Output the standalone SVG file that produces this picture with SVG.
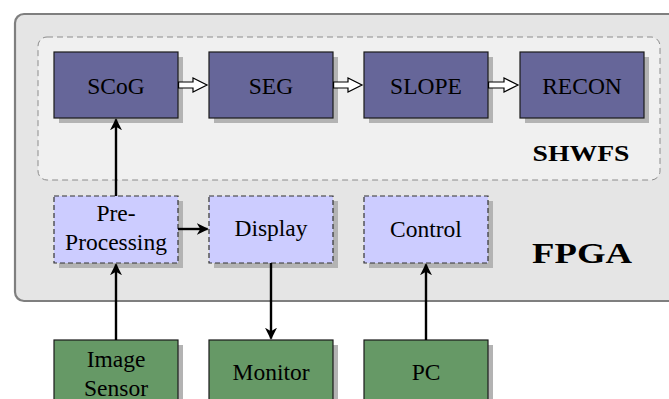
<svg xmlns="http://www.w3.org/2000/svg" width="669" height="399" viewBox="0 0 669 399">
  <style>
    text { font-family: "Liberation Serif", "DejaVu Serif", serif; fill: #000; text-anchor: middle; }
    .lbl { font-size: 23.5px; }
    .shadow { fill: #b3b3b3; }
    .core { fill: #666699; stroke: #1a1a1a; stroke-width: 1.2; }
    .aux { fill: #ccccff; stroke: #333; stroke-width: 1.2; stroke-dasharray: 5 3; }
    .ext { fill: #669966; stroke: #1a1a1a; stroke-width: 1.2; }
    .wire { stroke: #000; stroke-width: 2.4; fill: none; marker-end: url(#tip); }
    .dbl { fill: #fff; stroke: #000; stroke-width: 1.2; stroke-linejoin: miter; }
  </style>
  <defs>
    <marker id="tip" viewBox="0 0 10 10" refX="9" refY="5" markerWidth="5" markerHeight="5" orient="auto" markerUnits="strokeWidth">
      <path d="M0,0 L10,5 L0,10 L3,5 Z" fill="#000"/>
    </marker>
  </defs>

  <!-- FPGA container -->
  <g id="fpga">
    <rect x="15" y="14" width="680" height="287" rx="9" fill="#e5e5e5" stroke="#7f7f7f" stroke-width="2.2"/>
    <text x="582" y="263" textLength="100" lengthAdjust="spacingAndGlyphs" style="font-size:29px;font-weight:bold">FPGA</text>
  </g>

  <!-- SHWFS sub-block -->
  <g id="shwfs">
    <rect x="38" y="37" width="622" height="143" rx="9" fill="#f0f0f0" stroke="#8c8c8c" stroke-width="1" stroke-dasharray="6 4"/>
    <text x="581" y="161" textLength="97" lengthAdjust="spacingAndGlyphs" style="font-size:23px;font-weight:bold">SHWFS</text>
  </g>

  <g id="scog">
    <rect class="shadow" x="59" y="57" width="124" height="66"/>
    <rect class="core" x="54" y="52" width="124" height="66"/>
    <text class="lbl" x="116" y="94">SCoG</text>
  </g>
  <g id="seg">
    <rect class="shadow" x="214" y="57" width="124" height="66"/>
    <rect class="core" x="209" y="52" width="124" height="66"/>
    <text class="lbl" x="271" y="94">SEG</text>
  </g>
  <g id="slope">
    <rect class="shadow" x="369" y="57" width="124" height="66"/>
    <rect class="core" x="364" y="52" width="124" height="66"/>
    <text class="lbl" x="426" y="94">SLOPE</text>
  </g>
  <g id="recon">
    <rect class="shadow" x="525" y="57" width="124" height="66"/>
    <rect class="core" x="520" y="52" width="124" height="66"/>
    <text class="lbl" x="582" y="94">RECON</text>
  </g>

  <g id="preprocessing">
    <rect class="shadow" x="59" y="201" width="124" height="67"/>
    <rect class="aux" x="54" y="196" width="124" height="67"/>
    <text class="lbl" x="116" y="221">Pre-</text>
    <text class="lbl" x="116" y="250">Processing</text>
  </g>
  <g id="display">
    <rect class="shadow" x="214" y="201" width="124" height="67"/>
    <rect class="aux" x="209" y="196" width="124" height="67"/>
    <text class="lbl" x="271" y="236">Display</text>
  </g>
  <g id="control">
    <rect class="shadow" x="369" y="201" width="124" height="67"/>
    <rect class="aux" x="364" y="196" width="124" height="67"/>
    <text class="lbl" x="426" y="237">Control</text>
  </g>

  <g id="image-sensor">
    <rect class="shadow" x="59" y="345" width="124" height="70"/>
    <rect class="ext" x="54" y="340" width="124" height="70"/>
    <text class="lbl" x="116" y="367">Image</text>
    <text class="lbl" x="116" y="396">Sensor</text>
  </g>
  <g id="monitor">
    <rect class="shadow" x="214" y="345" width="124" height="70"/>
    <rect class="ext" x="209" y="340" width="124" height="70"/>
    <text class="lbl" x="271" y="380">Monitor</text>
  </g>
  <g id="pc">
    <rect class="shadow" x="369" y="345" width="124" height="70"/>
    <rect class="ext" x="364" y="340" width="124" height="70"/>
    <text class="lbl" x="426" y="380">PC</text>
  </g>

  <!-- connectors -->
  <g id="connectors">
    <!-- hollow double-line arrows along the SHWFS pipeline -->
    <path class="dbl" d="M178.6,82 H193 V78 L207,85 L193,92 V88 H178.6 Z"/>
    <path class="dbl" d="M333.6,82 H348 V78 L362,85 L348,92 V88 H333.6 Z"/>
    <path class="dbl" d="M488.6,82 H504 V78 L518,85 L504,92 V88 H488.6 Z"/>

    <path class="wire" d="M116,196 V119.5"/>
    <path class="wire" d="M178,229 H207.5"/>
    <path class="wire" d="M271,263 V338.5"/>
    <path class="wire" d="M116,340 V264.5"/>
    <path class="wire" d="M426,340 V264.5"/>
  </g>
</svg>
